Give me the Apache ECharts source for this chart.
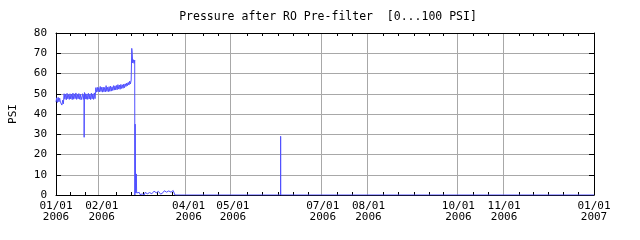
<!DOCTYPE html>
<html>
<head>
<meta charset="utf-8">
<script src="https://cdn.jsdelivr.net/npm/echarts@6/dist/echarts.min.js"></script>
<style>html,body{margin:0;padding:0;background:#fff;}#c{width:640px;height:240px;}</style>
</head>
<body>
<div id="c"></div>
<script>
// ---- data (day offsets from 2006-01-01, PSI readings) ----
const sampleDay = [
  0,0.5,1,1.5,2,2.5,3,3.5,4,4.5,5,5.5,6,6.5,7,7.5,8,8.5,9,9.5,10,10.5,11,11.5,12,12.5,13,13.5,14,14.5,15,15.5,16,16.5,17,17.3,17.7,18,18.5,19,19.1,19.3,19.7,
  20,20.5,21,21.5,22,22.5,23,23.5,24,24.5,25,25.5,26,26.5,26.8,27,27.5,28,28.5,29,29.5,30,30.5,31,31.5,32,32.5,33,33.5,34,34.5,35,35.5,36,36.5,37,37.5,38,38.5,39,39.5,
  40,40.5,41,41.5,42,42.5,43,43.5,44,44.5,45,45.5,46,46.5,47,47.5,48,48.5,49,49.5,50,50.5,51,51.3,51.4,51.7,52,52.5,53,53.4,53.5,53.7,54,54.5,54.7,
  55,55.5,56,56.5,57,57.5,58,58.5,59,59.5,60,60.5,61,61.5,62,62.5,63,63.5,64,64.5,65,65.5,66,66.5,67,67.5,68,68.5,69,69.5,
  70,70.5,71,71.5,72,72.5,73,73.5,74,74.5,75,75.5,76,76.5,77,77.5,78,78.5,79,79.5,80,80.5,80.7,152.3,152.4,152.5,365
];
const psi = [
  46,48,45.7,48.2,46,47.8,45.8,46.5,44.4,46.8,45,50,47.3,49.8,47,50.2,47.5,49.6,47.2,50,47.4,49.8,47.1,50.3,47.3,49.9,47.6,50.4,47.2,49.7,47.5,50.1,47.3,49.8,47,46.3,48.8,50,47.2,49.6,28.5,50.6,47.4,
  50,47.3,49.9,47.2,50.2,47.4,49.8,47.1,50.3,47.5,49.9,47.2,50.4,47.6,51,53,50.8,53.2,51,53,50.9,53.6,51.1,53.2,50.8,53.3,51,53.1,50.9,54,51.2,53.2,51,53.5,51.2,53.8,51.3,53.4,51.6,54,51.8,
  53.9,51.9,54.1,52,54.5,52.3,54.3,52.2,54.6,52.6,54.4,52.7,54.8,53,54.9,53.6,55.3,54,55.6,54.3,56.2,54.8,56.8,56.5,72.4,70,65.2,66.8,65,66.6,0,35,1,10.4,1,
  0.8,1.4,0.7,1.3,0.2,0.6,0.1,0.5,0.2,0.6,0.1,1.3,0.6,1.2,0.6,1.3,0.5,1.2,0.6,1.3,0.6,1.2,0.7,1.9,1.2,1.9,1.1,2,1.2,1.8,
  1.1,1.7,0.4,1.1,0.4,1.1,1.4,2.1,1.3,2,1.4,2.1,1.2,2,1.3,2.2,1.4,2,1.3,2.2,1.4,2,0,0,29,0,0
];
// ---- axis labels / ticks ----
const labelDates = ['2006-01-01','2006-02-01','2006-04-01','2006-05-01','2006-07-01','2006-08-01','2006-10-01','2006-11-01','2007-01-01'];
const titleText = 'Pressure after RO Pre-filter  [0...100 PSI]';
const yName = 'PSI';

const BASE = Date.UTC(2006,0,1);
function dayOf(s){const p=s.split('-').map(Number);return (Date.UTC(p[0],p[1]-1,p[2])-BASE)/864e5;}
function pad(n){return (n<10?'0':'')+n;}
const labelDays = labelDates.map(dayOf);
const minorDays = [];
for (let m=1;m<=12;m++){
  [1,11,21].forEach(d=>{
    const s='2006-'+pad(m)+'-'+pad(d);
    if (labelDates.indexOf(s)<0) minorDays.push(dayOf(s));
  });
}
const gridDays = labelDays.filter(d=>d>0 && d<365);
const seriesData = sampleDay.map((d,i)=>[d,psi[i]]);

const FONT = 'DejaVu Sans Mono';
const gridRect = {left:52, right:46, top:33, bottom:45, containLabel:false};

const chart = echarts.init(document.getElementById('c'), null, {renderer:'canvas'});
chart.setOption({
  animation:false,
  backgroundColor:'#fff',
  title:{text:titleText,left:323,top:6,textAlign:'center',textStyle:{fontFamily:FONT,fontSize:11.5,fontWeight:'normal',color:'#000'}},
  grid:[Object.assign({},gridRect), Object.assign({},gridRect)],
  xAxis:[
    {type:'value',gridIndex:0,position:'bottom',min:0,max:365,z:1,
     axisLine:{show:true,onZero:false,lineStyle:{color:'#000',width:1}},
     axisTick:{show:true,inside:true,length:3,customValues:minorDays,lineStyle:{color:'#000'}},
     axisLabel:{show:true,customValues:labelDays,margin:6,fontFamily:FONT,fontSize:11,lineHeight:10.5,color:'#000',
       formatter:function(v){const dt=new Date(BASE+v*864e5);return pad(dt.getUTCMonth()+1)+'/'+pad(dt.getUTCDate())+'\n'+dt.getUTCFullYear();}},
     splitLine:{show:false}},
    {type:'value',gridIndex:0,position:'top',min:0,max:365,z:1,
     axisLine:{show:true,onZero:false,lineStyle:{color:'#000',width:1}},
     axisTick:{show:true,inside:true,length:3,customValues:minorDays,lineStyle:{color:'#000'}},
     axisLabel:{show:false},splitLine:{show:false}},
    {type:'value',gridIndex:1,position:'bottom',min:0,max:365,z:0,
     axisLine:{show:false,onZero:false},
     axisTick:{show:false,customValues:gridDays},
     axisLabel:{show:false,customValues:gridDays},
     splitLine:{show:true,lineStyle:{color:'#a8a8a8',width:1}}}
  ],
  yAxis:[
    {type:'value',gridIndex:0,position:'left',min:0,max:80,interval:10,z:0,
     name:yName,nameLocation:'middle',nameGap:37,nameRotate:90,
     nameTextStyle:{fontFamily:FONT,fontSize:11,color:'#000'},
     axisLine:{show:true,onZero:false,lineStyle:{color:'#000'}},
     axisTick:{show:true,inside:true,length:5,lineStyle:{color:'#000'}},
     axisLabel:{show:true,margin:9,fontFamily:FONT,fontSize:11,color:'#000'},
     splitLine:{show:true,lineStyle:{color:'#a8a8a8',width:1}}},
    {type:'value',gridIndex:0,position:'right',min:0,max:80,interval:10,z:1,
     axisLine:{show:true,onZero:false,lineStyle:{color:'#000'}},
     axisTick:{show:true,inside:true,length:5,lineStyle:{color:'#000'}},
     axisLabel:{show:false},splitLine:{show:false}},
    {type:'value',gridIndex:1,min:0,max:80,show:false}
  ],
  series:[{
    type:'line',xAxisIndex:0,yAxisIndex:0,data:seriesData,showSymbol:false,symbol:'none',z:2,
    lineStyle:{color:'#5050ff',width:1},silent:true
  }]
});
</script>
</body>
</html>
